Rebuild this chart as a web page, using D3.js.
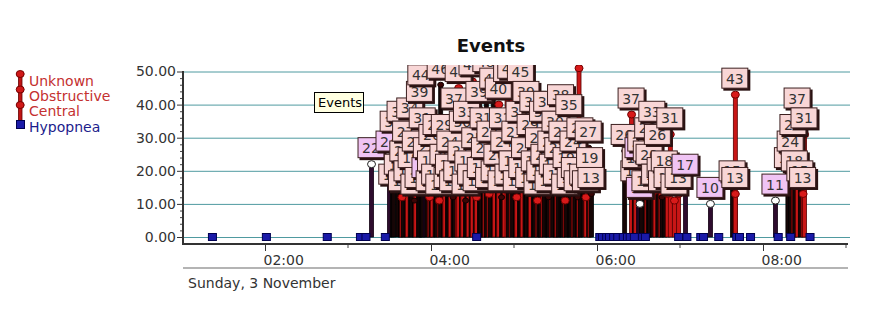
<!DOCTYPE html>
<html>
<head>
<meta charset="utf-8">
<script src="https://cdn.jsdelivr.net/npm/d3@7"></script>
<style>
body { margin: 0; background: #fff; }
svg text { font-family: "DejaVu Sans", sans-serif; }
</style>
</head>
<body>
<svg id="chart" width="876" height="329"></svg>
<script>
// event times (Sunday 3 November), values and type: O obstructive, U unknown, C central
const eventTimes = [
        '03:17', '03:30', '03:32', '03:33', '03:36', '03:38', '03:39', '03:40', '03:42', '03:43',
        '03:45', '03:46', '03:48', '03:49', '03:51', '03:52', '03:53', '03:54', '03:56', '03:57',
        '03:59', '04:00', '04:01', '04:03', '04:04', '04:06', '04:07', '04:09', '04:10', '04:12',
        '04:13', '04:14', '04:16', '04:17', '04:19', '04:20', '04:22', '04:23', '04:25', '04:26',
        '04:27', '04:29', '04:30', '04:32', '04:33', '04:35', '04:36', '04:38', '04:39', '04:40',
        '04:42', '04:43', '04:45', '04:46', '04:48', '04:49', '04:51', '04:52', '04:53', '04:55',
        '04:56', '04:58', '04:59', '05:01', '05:02', '05:04', '05:05', '05:06', '05:08', '05:09',
        '05:11', '05:12', '05:14', '05:15', '05:17', '05:18', '05:19', '05:21', '05:22', '05:24',
        '05:25', '05:27', '05:28', '05:30', '05:31', '05:32', '05:34', '05:35', '05:37', '05:38',
        '05:40', '05:41', '05:43', '05:44', '05:46', '05:47', '05:48', '05:50', '05:52', '05:54',
        '05:55', '05:56', '06:20', '06:25', '06:27', '06:28', '06:30', '06:31', '06:32', '06:35',
        '06:36', '06:37', '06:38', '06:40', '06:42', '06:44', '06:46', '06:47', '06:49', '06:51',
        '06:53', '06:56', '06:59', '07:04', '07:22', '07:38', '07:40', '07:40', '08:09', '08:18',
        '08:20', '08:22', '08:23', '08:25', '08:27', '08:29', '08:30',
];
const eventValues = [
        22, 24, 14, 30, 17, 33, 12, 21, 27, 15,
        34, 19, 11, 24, 13, 39, 44, 31, 16, 22,
        12, 18, 26, 14, 29, 11, 46, 20, 29, 13,
        17, 24, 12, 37, 15, 45, 21, 30, 11, 33,
        18, 14, 47, 25, 12, 39, 16, 31, 22, 48,
        13, 27, 43, 15, 20, 40, 12, 31, 24, 45,
        14, 46, 18, 27, 12, 33, 45, 16, 22, 39,
        13, 29, 36, 18, 11, 25, 15, 33, 20, 36,
        12, 24, 17, 30, 14, 22, 38, 27, 11, 19,
        35, 13, 24, 16, 12, 51, 28, 14, 12, 27,
        19, 13, 26, 37, 15, 19, 22, 10, 24, 12,
        21, 28, 20, 33, 14, 26, 16, 12, 18, 13,
        31, 11, 13, 17, 10, 15, 43, 13, 11, 19,
        24, 29, 18, 37, 15, 13, 31,
];
const eventTypes = [
        'C', 'C', 'U', 'U', 'U', 'U', 'O', 'U', 'U', 'O',
        'U', 'U', 'U', 'O', 'U', 'U', 'U', 'U', 'C', 'U',
        'O', 'U', 'O', 'U', 'U', 'O', 'U', 'U', 'O', 'U',
        'U', 'O', 'U', 'U', 'O', 'O', 'U', 'O', 'U', 'U',
        'O', 'U', 'O', 'U', 'O', 'U', 'U', 'U', 'O', 'U',
        'O', 'U', 'U', 'O', 'U', 'O', 'U', 'U', 'O', 'O',
        'U', 'O', 'U', 'U', 'O', 'U', 'U', 'O', 'U', 'U',
        'U', 'O', 'U', 'U', 'O', 'U', 'U', 'O', 'U', 'U',
        'U', 'O', 'U', 'U', 'O', 'U', 'U', 'U', 'O', 'U',
        'U', 'U', 'O', 'U', 'U', 'O', 'U', 'U', 'O', 'U',
        'O', 'U', 'U', 'O', 'U', 'O', 'C', 'C', 'U', 'U',
        'O', 'U', 'U', 'U', 'O', 'U', 'O', 'U', 'U', 'O',
        'O', 'O', 'O', 'C', 'C', 'U', 'O', 'O', 'C', 'U',
        'U', 'O', 'U', 'O', 'U', 'O', 'O',
];
const hypopneaTimes = [
        '01:22', '02:01', '02:45', '03:09', '03:13', '03:27', '04:33', '06:02', '06:04', '06:07',
        '06:09', '06:12', '06:15', '06:19', '06:22', '06:24', '06:27', '06:33', '06:35', '06:59',
        '07:05', '07:15', '07:17', '07:28', '07:41', '07:43', '07:51', '08:11', '08:20', '08:34',
];
const legendLabels = ['Unknown', 'Obstructive', 'Central', 'Hypopnea'];
const yTicks = [0, 10, 20, 30, 40, 50];
const xStart = '01:00';
const xEnd = '09:00';
const dayLabel = 'Sunday, 3 November';
const chartTitle = 'Events';

const parse = d3.timeParse('%Y-%m-%d %H:%M');
const t = s => parse('2019-11-03 ' + s);

const events = eventTimes.map((s, i) => ({ time: t(s), value: eventValues[i], type: eventTypes[i] }));

const dims = { left: 183, right: 850, top: 65, zero: 237, axisY: 244 };

const x = d3.scaleTime().domain([t(xStart), t(xEnd)]).range([182, 846]);
const y = d3.scaleLinear().domain([0, 50]).range([dims.zero, 71.5]);

const svg = d3.select('#chart');

const stemFill = { O: '#c81616', U: '#160606', C: '#2e0c2e' };
const stemLine = { O: '#5a0000', U: '#000', C: '#120012' };

// gridlines
svg.append('g')
        .selectAll('line')
        .data(yTicks)
        .join('line')
        .attr('x1', dims.left)
        .attr('x2', dims.right)
        .attr('y1', d => y(d) + 0.5)
        .attr('y2', d => y(d) + 0.5)
        .attr('stroke', '#4f9aa0')
        .attr('stroke-width', 1);

// title
svg.append('text')
        .attr('x', 491)
        .attr('y', 52)
        .attr('text-anchor', 'middle')
        .style('font-size', '18px')
        .style('font-weight', 'bold')
        .attr('fill', '#111')
        .text(chartTitle);

svg.append('clipPath')
        .attr('id', 'plotclip')
        .append('rect')
        .attr('x', dims.left)
        .attr('y', dims.top)
        .attr('width', dims.right - dims.left)
        .attr('height', dims.axisY - dims.top - 2);

const plot = svg.append('g').attr('clip-path', 'url(#plotclip)');

// stems
plot.append('g')
        .selectAll('rect')
        .data(events)
        .join('rect')
        .attr('x', d => x(d.time) - 2)
        .attr('y', d => y(d.value))
        .attr('width', 4)
        .attr('height', d => y(0) - y(d.value))
        .attr('fill', d => stemFill[d.type])
        .attr('stroke', d => stemLine[d.type])
        .attr('stroke-width', 0.8);

// markers
plot.append('g')
        .selectAll('ellipse')
        .data(events)
        .join('ellipse')
        .attr('cx', d => x(d.time))
        .attr('cy', d => y(d.value))
        .attr('rx', d => (d.type === 'U' ? 3 : 4))
        .attr('ry', d => (d.type === 'U' ? 2.5 : 3.5))
        .attr('fill', d => (d.type === 'C' ? '#fff' : d.type === 'O' ? '#d81a1a' : '#3a0606'))
        .attr('stroke', d => (d.type === 'C' ? '#222' : d.type === 'O' ? '#700000' : '#100000'))
        .attr('stroke-width', 1);

// hypopnea squares
plot.append('g')
        .selectAll('rect')
        .data(hypopneaTimes)
        .join('rect')
        .attr('x', d => x(t(d)) - 4)
        .attr('y', y(0) - 3.5)
        .attr('width', 8)
        .attr('height', 7)
        .attr('fill', '#1a1aa8')
        .attr('stroke', '#000050')
        .attr('stroke-width', 1);

// value labels
const labels = plot.append('g')
        .selectAll('g')
        .data(events)
        .join('g')
        .attr('transform', d => `translate(${x(d.time)},${y(d.value) - 5})`);

labels.append('rect')
        .attr('x', -12)
        .attr('y', -20)
        .attr('width', 27)
        .attr('height', 21)
        .attr('fill', '#2a1212');

labels.append('rect')
        .attr('x', -13.5)
        .attr('y', -21.5)
        .attr('width', 26)
        .attr('height', 20)
        .attr('fill', d => (d.type === 'C' ? '#f0c4f4' : '#f8d6d6'))
        .attr('stroke', '#3c2020')
        .attr('stroke-width', 1);

labels.append('text')
        .attr('x', -0.5)
        .attr('y', -6)
        .attr('text-anchor', 'middle')
        .style('font-size', '14px')
        .attr('fill', '#333')
        .text(d => d.value);

// y axis
const yAxis = svg.append('g')
        .attr('transform', `translate(${dims.left},0)`)
        .call(d3.axisLeft(y).tickValues(yTicks).tickSize(6).tickPadding(1).tickFormat(d3.format('.2f')));
yAxis.select('.domain').remove();
yAxis.selectAll('line').attr('stroke', '#333');
yAxis.selectAll('text')
        .style('font-size', '14px')
        .style('font-family', '"DejaVu Sans", sans-serif')
        .attr('fill', '#333');

svg.append('g')
        .selectAll('line')
        .data(d3.range(0, 50, 2).filter(v => v % 10 !== 0))
        .join('line')
        .attr('x1', dims.left - 3)
        .attr('x2', dims.left)
        .attr('y1', d => y(d) + 0.5)
        .attr('y2', d => y(d) + 0.5)
        .attr('stroke', '#444');

// gray rule under the time labels
svg.append('line')
        .attr('x1', dims.left)
        .attr('x2', 848)
        .attr('y1', 268)
        .attr('y2', 268)
        .attr('stroke', '#b4b4b4')
        .attr('stroke-width', 2);

// x axis
const xAxis = svg.append('g')
        .attr('transform', `translate(0,${dims.axisY})`)
        .call(d3.axisBottom(x).ticks(d3.timeHour.every(2)).tickSize(7).tickFormat(d3.timeFormat('%H:%M')));
xAxis.select('.domain').remove();
xAxis.selectAll('line').attr('stroke', '#333');
xAxis.selectAll('text')
        .attr('text-anchor', 'start')
        .attr('dx', -2)
        .attr('y', 11)
        .style('font-size', '14px')
        .style('font-family', '"DejaVu Sans", sans-serif')
        .attr('fill', '#333');

svg.append('g')
        .selectAll('line')
        .data(d3.timeHour.range(t('03:00'), t('09:30'), 2))
        .join('line')
        .attr('x1', d => x(d))
        .attr('x2', d => x(d))
        .attr('y1', dims.axisY)
        .attr('y2', dims.axisY + 4)
        .attr('stroke', '#444');

svg.append('line')
        .attr('x1', dims.left)
        .attr('x2', dims.left)
        .attr('y1', 71)
        .attr('y2', dims.axisY + 1)
        .attr('stroke', '#333')
        .attr('stroke-width', 2);

svg.append('line')
        .attr('x1', dims.left)
        .attr('x2', 848)
        .attr('y1', dims.axisY)
        .attr('y2', dims.axisY)
        .attr('stroke', '#333')
        .attr('stroke-width', 2);

svg.append('text')
        .attr('x', 188)
        .attr('y', 288)
        .style('font-size', '14px')
        .attr('fill', '#333')
        .text(dayLabel);

// legend
const legend = svg.append('g');
legend.append('rect')
        .attr('x', 18.5)
        .attr('y', 74)
        .attr('width', 3.5)
        .attr('height', 48)
        .attr('fill', '#c01414')
        .attr('stroke', '#600')
        .attr('stroke-width', 0.8);
legend.selectAll('ellipse')
        .data(legendLabels.slice(0, 3))
        .join('ellipse')
        .attr('cx', 20.2)
        .attr('cy', (d, i) => 74 + i * 15.5)
        .attr('rx', 4)
        .attr('ry', 3.5)
        .attr('fill', '#d01818')
        .attr('stroke', '#700');
legend.append('rect')
        .attr('x', 16.5)
        .attr('y', 120.5)
        .attr('width', 8)
        .attr('height', 8)
        .attr('fill', '#1a1aa8')
        .attr('stroke', '#000050');
legend.selectAll('text')
        .data(legendLabels)
        .join('text')
        .attr('x', 29)
        .attr('y', (d, i) => 86 + i * 15.2)
        .style('font-size', '14px')
        .attr('fill', (d, i) => (i < 3 ? '#c43030' : '#1c1c8c'))
        .text(d => d);

// tooltip
const tip = svg.append('g');
tip.append('rect')
        .attr('x', 314.5)
        .attr('y', 92.5)
        .attr('width', 49)
        .attr('height', 20)
        .attr('fill', '#ffffe1')
        .attr('stroke', '#000');
tip.append('text')
        .attr('x', 318)
        .attr('y', 107)
        .style('font-size', '13px')
        .attr('fill', '#000')
        .text(chartTitle);
</script>
</body>
</html>
